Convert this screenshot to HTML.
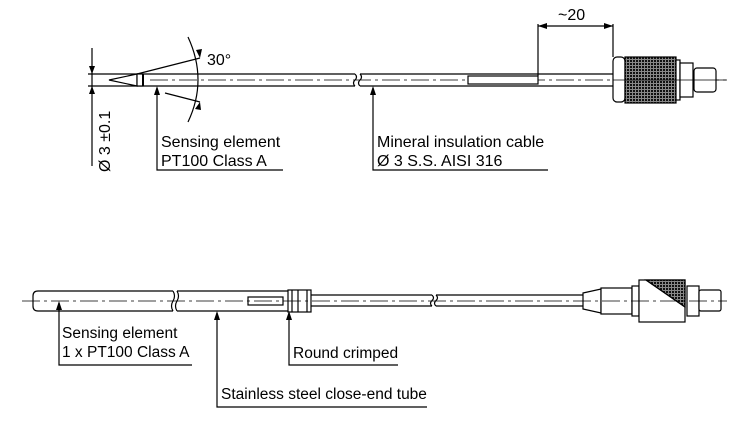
<!DOCTYPE html>
<html><head><meta charset="utf-8"><style>
html,body{margin:0;padding:0;background:#fff;}
svg{display:block;}
text{font-family:"Liberation Sans",Arial,sans-serif;font-size:16px;fill:#000;}
.b{font-size:15.5px;}
</style></head><body>
<svg width="741" height="445" viewBox="0 0 741 445" xmlns="http://www.w3.org/2000/svg">
<defs>
<pattern id="kn" width="3" height="3" patternUnits="userSpaceOnUse">
<rect width="3" height="3" fill="#888"/><rect width="2" height="2" fill="#111"/>
</pattern>
</defs>
<g stroke="#000" stroke-width="1.2" fill="none">
<line x1="88" y1="74" x2="355" y2="74"/>
<line x1="88" y1="86" x2="355" y2="86"/>
<path d="M355 74 q3 3 0 6 q-3 3 0 6 M360 74 q3 3 0 6 q-3 3 0 6"/>
<line x1="360" y1="74" x2="613" y2="74"/>
<line x1="360" y1="86" x2="613" y2="86"/>
<path d="M109 80 L137 74 L137 86 Z" fill="#fff"/>
<rect x="137" y="74" width="6" height="12" fill="#fff"/>
<line x1="143" y1="74" x2="143" y2="86" stroke-width="2"/>
<line x1="150" y1="80" x2="727" y2="80" stroke-dasharray="18 4 3 4" stroke-width="0.8"/>
<rect x="468" y="76" width="70" height="8" fill="#fff"/>
<line x1="92" y1="48" x2="92" y2="166"/>
<line x1="137" y1="74" x2="200" y2="58"/>
<line x1="165" y1="93" x2="200" y2="102"/>
<path d="M188 37 Q208 80 188 122"/>
<line x1="538" y1="24" x2="538" y2="76"/>
<line x1="613" y1="24" x2="613" y2="57"/>
<line x1="538" y1="26" x2="613" y2="26"/>
<rect x="613" y="57" width="12" height="45" rx="4" fill="#fff"/>
<rect x="625" y="57" width="51" height="46" fill="url(#kn)"/>
<rect x="676" y="60" width="4" height="40" fill="#fff"/>
<rect x="680" y="63" width="13" height="34" fill="#fff"/>
<rect x="694" y="68" width="22" height="24" rx="3" fill="#fff"/>
<line x1="613" y1="80" x2="727" y2="80" stroke-width="0.8"/>
<polyline points="157,88 157,170 283,170"/>
<polyline points="373,88 373,170 548,170"/>
<path d="M173 291 L38 291 Q33 291 33 296 L33 306 Q33 311 38 311 L173 311" />
<path d="M173 291 q3 5 0 10 q-3 5 0 10 M177 291 q3 5 0 10 q-3 5 0 10"/>
<line x1="177" y1="291" x2="288" y2="291"/>
<line x1="177" y1="311" x2="288" y2="311"/>
<rect x="288" y="290" width="23" height="22" fill="#fff"/>
<line x1="292" y1="290" x2="292" y2="312"/>
<line x1="298" y1="290" x2="298" y2="312"/>
<line x1="307" y1="290" x2="307" y2="312"/>
<rect x="248" y="297" width="35" height="8" fill="#fff"/>
<line x1="311" y1="295" x2="432" y2="295"/>
<line x1="311" y1="306" x2="432" y2="306"/>
<path d="M432 295 q3 3 0 5.5 q-3 3 0 5.5 M436 295 q3 3 0 5.5 q-3 3 0 5.5"/>
<line x1="436" y1="295" x2="583" y2="295"/>
<line x1="436" y1="306" x2="583" y2="306"/>
<path d="M583 293 L601 289 L601 313 L583 309 Z" fill="#fff"/>
<rect x="601" y="288" width="31" height="26" fill="#fff"/>
<rect x="632" y="286" width="7" height="30" fill="#fff"/>
<rect x="639" y="280" width="46" height="42" fill="#fff"/>
<path d="M646 280 L685 280 L685 307 Z" fill="url(#kn)"/>
<line x1="646" y1="280" x2="685" y2="307"/>
<rect x="687" y="286" width="12" height="30" fill="#fff"/>
<rect x="699" y="290" width="22" height="21" rx="2" fill="#fff"/>
<line x1="22" y1="301" x2="727" y2="301" stroke-dasharray="18 4 3 4" stroke-width="0.8"/>
<polyline points="59,303 59,365 192,365"/>
<polyline points="217,313 217,407 427,407"/>
<polyline points="289,313 289,365 398,365"/>
</g>
<g fill="#000">
<path d="M92 74 l-3 -8 l6 0 Z"/>
<path d="M92 86 l-3 8 l6 0 Z"/>
<path d="M200 58 l-4 -8 l6 -1 Z"/>
<path d="M200 102 l-5 7 l6 1 Z"/>
<path d="M538 26 l9 -3 l0 6 Z"/>
<path d="M613 26 l-9 -3 l0 6 Z"/>
<path d="M157 86 l-3 9 l6 0 Z"/>
<path d="M373 86 l-3 9 l6 0 Z"/>
<path d="M59 301 l-3 9 l6 0 Z"/>
<path d="M217 311 l-3 9 l6 0 Z"/>
<path d="M289 311 l-3 9 l6 0 Z"/>
</g>
<text x="207" y="65">30°</text>
<text x="558" y="20">~20</text>
<text transform="translate(110,172) rotate(-90)">Ø 3 ±0.1</text>
<text x="161" y="147">Sensing element</text>
<text x="161" y="166">PT100 Class A</text>
<text x="377" y="147">Mineral insulation cable</text>
<text x="377" y="166">Ø 3 S.S. AISI 316</text>
<text class="b" x="62" y="338">Sensing element</text>
<text class="b" x="62" y="357">1 x PT100 Class A</text>
<text class="b" x="293" y="358">Round crimped</text>
<text class="b" x="221" y="399">Stainless steel close-end tube</text>
</svg>
</body></html>
